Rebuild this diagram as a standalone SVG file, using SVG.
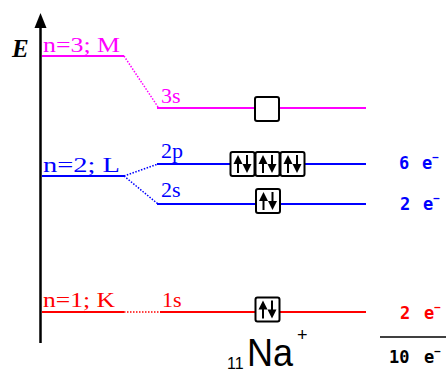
<svg xmlns="http://www.w3.org/2000/svg" width="448" height="373" viewBox="0 0 448 373">
<style>
.lvl{fill:none;stroke-width:2}
.dot{fill:none;stroke-width:1.5;stroke-dasharray:1.5,1.5}
.m{stroke:#ff00ff}.b{stroke:#0000ff}.r{stroke:#ff0000}
.lab{font-family:"Liberation Serif",serif;font-size:20px}
.orb{font-family:"Liberation Serif",serif;font-size:22px}
.cnt{font-family:"DejaVu Sans Mono",monospace;font-weight:bold;font-size:17px}
.sup{font-family:"DejaVu Sans Mono",monospace;font-weight:bold;font-size:11px}
</style>
<defs>
<g id="box">
<rect x="0" y="0" width="24" height="24" rx="2" fill="#fff" stroke="#000" stroke-width="2"/>
</g>
<g id="pair">
<use href="#box"/>
<line x1="7.5" y1="21" x2="7.5" y2="10" stroke="#000" stroke-width="2"/>
<polygon points="7.5,3 3,12 12,12" fill="#000"/>
<line x1="16.5" y1="3" x2="16.5" y2="14" stroke="#000" stroke-width="2"/>
<polygon points="16.5,21 12,12 21,12" fill="#000"/>
</g>
</defs>

<g id="axis">
<line x1="40.5" y1="343" x2="40.5" y2="24" stroke="#000" stroke-width="2.5"/>
<polygon points="40.5,13 34.5,28 46.5,28" fill="#000"/>
<text x="12" y="57" font-family="Liberation Serif,serif" font-size="25" font-weight="bold" font-style="italic">E</text>
</g>

<g id="connectors">
<line class="dot m" x1="124" y1="56" x2="158" y2="107"/>
<line class="dot b" x1="124" y1="176" x2="158" y2="164"/>
<line class="dot b" x1="124" y1="176" x2="158" y2="204"/>
<line class="dot r" x1="124" y1="312" x2="160" y2="312"/>
</g>

<g id="shellM">
<line class="lvl m" x1="42" y1="56" x2="124" y2="56"/>
<text class="lab" x="43" y="52" fill="#ff00ff" textLength="77" lengthAdjust="spacingAndGlyphs">n=3; M</text>
</g>
<g id="shellL">
<line class="lvl b" x1="42" y1="176" x2="124" y2="176"/>
<text class="lab" x="43" y="172" fill="#0000ff" textLength="77" lengthAdjust="spacingAndGlyphs">n=2; L</text>
</g>
<g id="shellK">
<line class="lvl r" x1="42" y1="312" x2="124" y2="312"/>
<text class="lab" x="43" y="307" fill="#ff0000" textLength="72" lengthAdjust="spacingAndGlyphs">n=1; K</text>
</g>

<g id="orb3s">
<line class="lvl m" x1="157" y1="108" x2="366" y2="108"/>
<text class="orb" x="161" y="103" fill="#ff00ff">3s</text>
<use href="#box" x="255" y="97"/>
</g>
<g id="orb2p">
<line class="lvl b" x1="157" y1="164" x2="366" y2="164"/>
<text class="orb" x="161" y="158" fill="#0000ff">2p</text>
<use href="#pair" x="230.5" y="152"/>
<use href="#pair" x="255.5" y="152"/>
<use href="#pair" x="280.5" y="152"/>
<text class="cnt" x="399" y="169" fill="#0000ff">6<tspan x="422">e</tspan><tspan class="sup" dy="-8">−</tspan></text>
</g>
<g id="orb2s">
<line class="lvl b" x1="157" y1="204" x2="366" y2="204"/>
<text class="orb" x="161" y="197" fill="#0000ff">2s</text>
<use href="#pair" x="256" y="189"/>
<text class="cnt" x="400" y="210" fill="#0000ff">2<tspan x="423">e</tspan><tspan class="sup" dy="-8">−</tspan></text>
</g>
<g id="orb1s">
<line class="lvl r" x1="160" y1="312" x2="366" y2="312"/>
<text class="orb" x="162" y="307" fill="#ff0000">1s</text>
<use href="#pair" x="255.5" y="297.5"/>
<text class="cnt" x="400" y="319" fill="#ff0000">2<tspan x="424">e</tspan><tspan class="sup" dy="-8">−</tspan></text>
</g>

<g id="total">
<line x1="380" y1="337" x2="446" y2="337" stroke="#000" stroke-width="1.5"/>
<text class="cnt" x="389" y="363" fill="#000">10<tspan x="424">e</tspan><tspan class="sup" dy="-8">−</tspan></text>
</g>

<g id="ion" font-family="Liberation Sans,Arial,sans-serif" fill="#000">
<text x="227" y="369" font-size="16">11</text>
<text x="247" y="366" font-size="38" textLength="46" lengthAdjust="spacingAndGlyphs">Na</text>
<text x="297" y="341" font-size="18">+</text>
</g>
</svg>
